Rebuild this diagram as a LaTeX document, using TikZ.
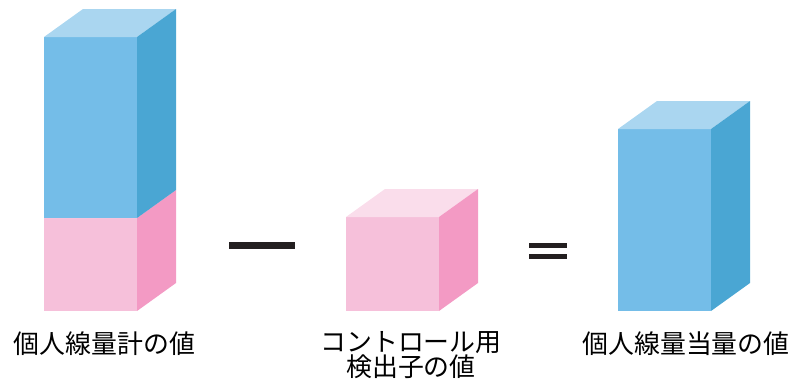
\documentclass[tikz,border=0pt]{standalone}
\usepackage{fontspec}
\setmainfont{Noto Sans CJK JP}
\usepackage{tikz}

\definecolor{bluefront}{RGB}{116,189,232}
\definecolor{bluetop}{RGB}{170,214,240}
\definecolor{blueside}{RGB}{74,166,211}
\definecolor{pinkfront}{RGB}{246,192,218}
\definecolor{pinktop}{RGB}{250,221,235}
\definecolor{pinkside}{RGB}{243,154,196}
\definecolor{signcol}{RGB}{35,31,32}

\tikzset{
    label/.style={
           font=\fontsize{26}{24}\selectfont,
           inner sep=0pt,
           align=center,
           },
}

% box: left x, top y, right x, bottom y, colour prefix
\newcommand{\cuboid}[5]{%
    \fill[#5front] (#1,#2) rectangle (#3,#4);
    \fill[#5top] (#1,#2) -- ++(39,-28) -- ++(#3-#1,0) -- (#3,#2) -- cycle;
    \fill[#5side] (#3,#2) -- ++(39,-28) -- (#3+39,#4-28) -- (#3,#4) -- cycle;
}

\begin{document}
\begin{tikzpicture}[x=1bp,y=-1bp]
        \useasboundingbox (0,0) rectangle (797,381);
        % stacked reading
        \cuboid{44}{218}{137}{311}{pink}
        \cuboid{44}{37}{137}{218}{blue}
        % control
        \cuboid{346}{217}{439}{311}{pink}
        % result
        \cuboid{618}{129}{711}{311}{blue}

        % minus and equals
        \fill[signcol] (229,242) rectangle (295,249);
        \fill[signcol] (529,243) rectangle (567,248);
        \fill[signcol] (529,254) rectangle (567,259);

        \node[label] (dosimeter) at (104.5,344) {個人線量計の値};
        \node[label] (control) at (411,355) {コントロール用\\検出子の値};
        \node[label] (equivalent) at (686,344) {個人線量当量の値};
    \end{tikzpicture}
\end{document}
